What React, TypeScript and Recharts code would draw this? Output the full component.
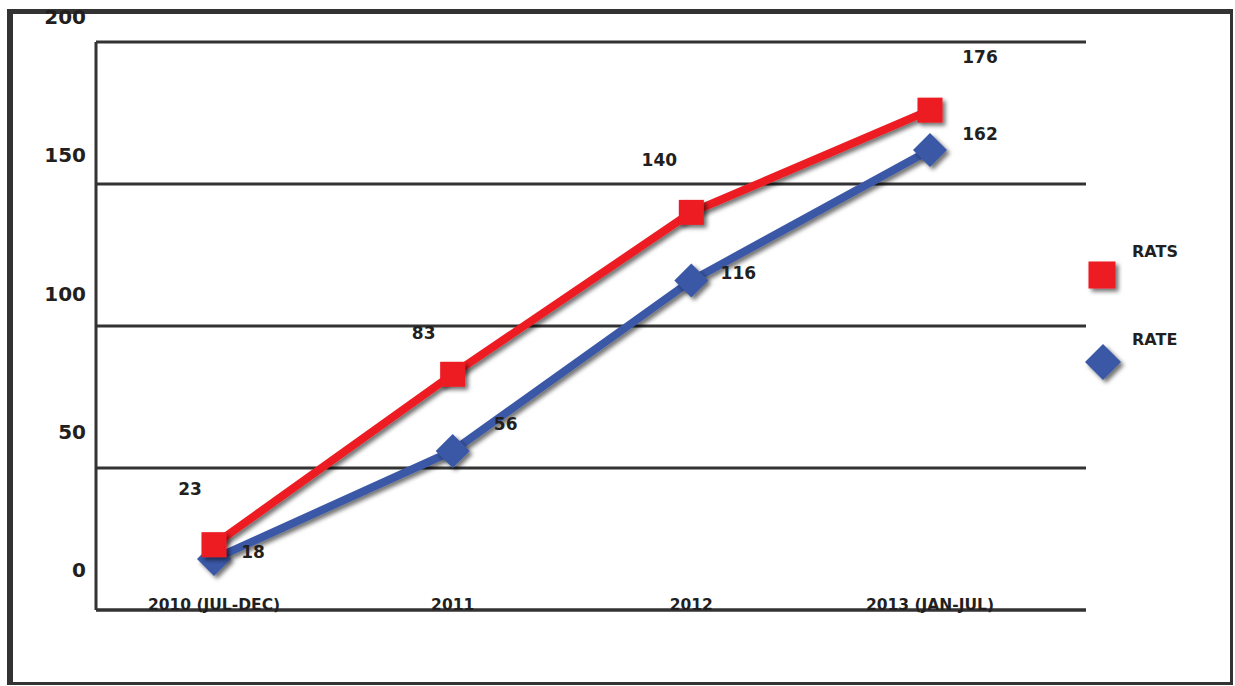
import { LineChart, Line, XAxis, YAxis, CartesianGrid, LabelList } from 'recharts';

const years = ['2010 (JUL-DEC)', '2011', '2012', '2013 (JAN-JUL)'];
const rats = [23, 83, 140, 176];
const rate = [18, 56, 116, 162];
const yTicks = [0, 50, 100, 150, 200];
const seriesNames = ['RATS', 'RATE'];

const data = years.map((year, i) => ({ year, RATS: rats[i], RATE: rate[i] }));

const RED = '#ED1C24';
const BLUE = '#3B58A7';
const INK = '#231F20';
const RULE = '#333333';
const FONT = '"DejaVu Sans", Verdana, sans-serif';

// where the value labels sit relative to each point
const RATS_NUDGE = [[-24, -56], [-29, -41], [-32, -52], [50, -53]];
const RATE_NUDGE = [[39, -7], [53, -27], [47, -8], [50, -16]];

const SquareDot = (p: any) => {
  if (p.cx == null || p.cy == null) return null;
  return <rect key={p.index} x={p.cx - 12.5} y={p.cy - 12.5} width={25} height={25} fill={RED} filter="url(#dropShadow)" />;
};

const DiamondDot = (p: any) => {
  if (p.cx == null || p.cy == null) return null;
  const r = 17;
  return (
    <polygon
      key={p.index}
      points={`${p.cx},${p.cy - r} ${p.cx + r},${p.cy} ${p.cx},${p.cy + r} ${p.cx - r},${p.cy}`}
      fill={BLUE}
      filter="url(#dropShadow)"
    />
  );
};

const valueLabel = (nudge: number[][]) => (p: any) => {
  const [dx, dy] = nudge[p.index] ?? [0, -20];
  return (
    <text key={p.index} x={p.x + dx} y={p.y + dy} textAnchor="middle" dominantBaseline="central"
      fontFamily={FONT} fontWeight={700} fontSize={17} fill={INK}>
      {p.value}
    </text>
  );
};

const YTick = ({ x, y, payload }: any) => (
  <text x={x} y={y + (-25 - ((200 - payload.value) / 50) * 3.75)} textAnchor="end" dominantBaseline="central"
    fontFamily={FONT} fontWeight={700} fontSize={20} fill={INK}>
    {payload.value}
  </text>
);

const XTick = ({ x, y, payload }: any) => (
  <text x={x} y={y} textAnchor="middle" fontFamily={FONT} fontWeight={700} fontSize={15.5} fill={INK}>
    {payload.value}
  </text>
);

function SideLegend() {
  const colors: Record<string, string> = { RATS: RED, RATE: BLUE };
  return (
    <svg width={150} height={170} style={{ position: 'absolute', left: 1080, top: 235, overflow: 'visible' }}>
      <defs>
        <filter id="legendShadow" x="-40%" y="-40%" width="180%" height="180%">
          <feDropShadow dx={3} dy={3} stdDeviation={2} floodColor="#000" floodOpacity={0.55} />
        </filter>
      </defs>
      {seriesNames.map((name, i) => {
        const top = i * 88;
        return (
          <g key={name}>
            <text x={52} y={top + 16} dominantBaseline="central" fontFamily={FONT} fontWeight={700} fontSize={16} fill={INK}>
              {name}
            </text>
            {name === 'RATS' ? (
              <rect x={22 - 13.5} y={top + 40 - 13.5} width={27} height={27} fill={colors[name]} filter="url(#legendShadow)" />
            ) : (
              <polygon points={`23,${top + 21} 41,${top + 39} 23,${top + 57} 5,${top + 39}`} fill={colors[name]} filter="url(#legendShadow)" />
            )}
          </g>
        );
      })}
    </svg>
  );
}

export default function App() {
  return (
    <div style={{ position: 'absolute', left: 0, top: 0, width: 1235, height: 686, background: '#fff' }}>
      <style>{`.shadowed .recharts-line-curve { filter: url(#dropShadow); }`}</style>
      <div style={{
        position: 'absolute', left: 7, top: 9, width: 1226, height: 676, boxSizing: 'border-box',
        borderStyle: 'solid', borderColor: RULE, borderWidth: '5px 3px 3px 6px',
      }} />
      <div style={{ position: 'absolute', left: 0, top: 0 }}>
        <LineChart width={1235} height={686} data={data} margin={{ top: 42, right: 149, bottom: 46, left: 0 }}>
          <defs>
            <filter id="dropShadow" x="-30%" y="-30%" width="160%" height="160%">
              <feDropShadow dx={3} dy={3} stdDeviation={2} floodColor="#000" floodOpacity={0.55} />
            </filter>
          </defs>
          <CartesianGrid vertical={false} stroke={RULE} strokeWidth={3} />
          <XAxis dataKey="year" interval={0} height={30} padding={{ left: 118, right: 156 }}
            axisLine={{ stroke: RULE, strokeWidth: 3 }} tickLine={false} tickSize={0} tickMargin={0} tick={<XTick />} />
          <YAxis domain={[0, 200]} ticks={yTicks} width={96} axisLine={{ stroke: RULE, strokeWidth: 3 }}
            tickLine={false} tickSize={0} tickMargin={10} tick={<YTick />} />
          <Line className="shadowed" dataKey="RATE" stroke={BLUE} strokeWidth={8} dot={DiamondDot} activeDot={false}
            isAnimationActive={false}>
            <LabelList dataKey="RATE" content={valueLabel(RATE_NUDGE)} />
          </Line>
          <Line className="shadowed" dataKey="RATS" stroke={RED} strokeWidth={8} dot={SquareDot} activeDot={false}
            isAnimationActive={false}>
            <LabelList dataKey="RATS" content={valueLabel(RATS_NUDGE)} />
          </Line>
        </LineChart>
      </div>
      <SideLegend />
    </div>
  );
}
